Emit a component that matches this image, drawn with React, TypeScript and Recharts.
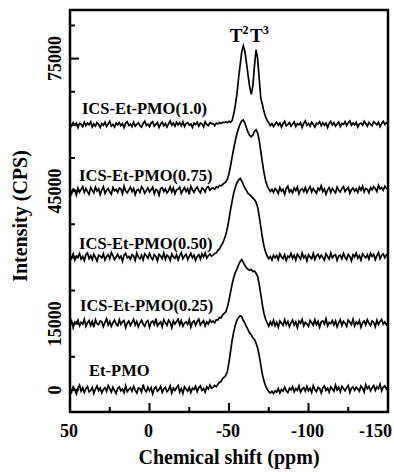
import React from 'react';
import { LineChart, Line, XAxis, YAxis, ReferenceArea, ReferenceDot } from 'recharts';

// chemical shift grid (ppm), 50 down to -150 in 1 ppm steps
const shifts: number[] = Array.from({ length: 201 }, (_, i) => 50 - i);

// raw intensities (CPS), one per shift, 10 ppm per row
const etPmo = [
  200, -500, 700, 100, -900, 400, 1100, -300, 500, -600,
  300, 800, -400, -100, 600, -800, 200, 900, -200, 400,
  -700, 100, 500, -300, 1000, 300, -500, 600, -100, -800,
  400, 700, -200, 200, -600, 900, -400, 100, 500, -300,
  800, -100, -700, 400, 300, -500, 1200, 0, -400, 600,
  -200, 500, -900, 300, 700, -300, 100, 800, -600, 200,
  600, -400, 0, 900, -700, 400, -100, 500, 1000, -500,
  300, -800, 700, 200, -300, 600, -600, 400, 100, 800,
  -400, 500, 900, -100, 300, -500, 700, 200, 1100, 400,
  600, 1000, 700, 1300, 1700, 1900, 2600, 2900, 3300, 4200,
  6300, 8800, 11300, 13200, 14700, 15800, 16400, 16800, 16600, 15700,
  15100, 14300, 13600, 12900, 12500, 11800, 11400, 10600, 9500, 7800,
  5600, 3500, 2000, 900, 200, -400, -700, -300, -800, -200,
  -500, 300, -700, 100, -300, 600, -200, -600, 400, 0,
  700, -400, 300, -100, 900, -500, 200, 500, -300, 800,
  -200, 400, -600, 1000, 100, -400, 600, 300, -700, 500,
  900, -100, 400, -500, 700, 200, -300, 1100, 0, 600,
  -400, 800, 300, -200, 500, 1000, -600, 400, 700, -100,
  600, 200, -300, 900, 400, -500, 1200, 300, 800, -200,
  500, 1000, -100, 700, 300, 1300, -200, 600, 900, 200,
  700,
];
const ics025 = [
  -300, 600, -900, 400, 100, 800, -500, 300, -100, 1000,
  -600, 200, 700, -400, 500, -800, 900, 0, -200, 600,
  400, -700, 300, 1100, -300, 500, -600, 200, 800, -100,
  -500, 900, -200, 400, 700, -900, 100, 600, -400, 300,
  1000, -300, 500, -700, 200, 800, -100, -600, 400, 700,
  -800, 300, 600, -200, 1100, -500, 0, 400, -700, 900,
  200, -400, 800, 300, -900, 600, -100, 500, 1000, -300,
  700, -600, 100, 400, -200, 900, -800, 300, 600, -400,
  500, 1000, -300, 200, 700, -500, 400, -100, 800, 300,
  600, 200, 900, 800, 1400, 1300, 2000, 2300, 2700, 3800,
  5300, 7200, 9000, 10500, 11600, 12400, 13300, 14000, 14500, 13800,
  13200, 12600, 12300, 12100, 12300, 11800, 11900, 11400, 10700, 8900,
  6600, 4200, 2300, 1000, 200, -600, 400, -300, 800, -500,
  300, -800, 600, 100, -400, 900, -200, 500, -700, 200,
  800, -300, 400, -900, 600, 100, 1000, -500, 300, -100,
  -600, 700, 200, -400, 900, -200, 500, -800, 400, 600,
  -100, 1100, -500, 300, 0, 700, -300, 600, -700, 200,
  900, -400, 500, 100, -600, 800, 300, -200, 1000, -500,
  400, -100, 700, -800, 200, 600, -300, 900, 100, -400,
  600, 300, -700, 800, -200, 500, 1000, -100, 400, -300,
  200,
];
const ics050 = [
  500, -200, 800, -600, 300, 100, 900, -400, 200, -700,
  600, 1000, -300, 400, -500, 700, 0, -800, 500, 300,
  -100, 800, -600, 200, 600, -300, 1100, 400, -500, 100,
  700, -200, 300, -900, 500, 900, -100, 200, -400, 600,
  300, -700, 1000, 100, -300, 500, -600, 800, 400, -200,
  900, 0, -500, 600, 200, -800, 700, 300, -300, 1000,
  -400, 500, 200, -700, 800, 100, -200, 600, -600, 400,
  1100, -300, 300, 700, -500, 200, 900, -100, 500, -700,
  200, 600, -400, 800, 100, 1000, -200, 400, 700, 300,
  500, 900, 1000, 1600, 1900, 2600, 3200, 4100, 5100, 6700,
  8600, 10900, 12800, 14600, 15900, 16900, 17500, 17900, 17300, 16500,
  15700, 15100, 14500, 14200, 13800, 13400, 13100, 12500, 11400, 9300,
  6900, 4500, 2500, 1200, 300, -300, 200, -600, 500, -100,
  400, -500, 800, 100, -300, 600, -700, 300, 0, 900,
  -200, 500, -600, 700, 200, -400, 1000, -100, 400, -800,
  600, 100, -300, 900, -500, 300, 700, -200, 500, 0,
  -600, 800, 200, -400, 1000, -100, 400, 600, -700, 300,
  500, -300, 900, 0, -500, 700, 200, -800, 600, 100,
  1000, -200, 400, -600, 800, 300, -100, 600, -400, 900,
  200, 700, -500, 400, 1100, -300, 500, 800, -100, 600,
  300,
];
const ics075 = [
  100, -600, 500, 300, -900, 700, -200, 400, 1000, -300,
  600, -100, -700, 800, 200, -400, 900, 0, 500, -800,
  300, 1000, -500, 200, 600, -200, -700, 800, 100, 400,
  -300, 700, 500, -600, 1100, 0, -400, 300, 900, -100,
  600, -800, 200, 400, -300, 1000, 500, -500, 100, 700,
  -200, 300, 900, -600, 400, 200, -900, 600, 800, -100,
  500, -400, 100, 1000, -200, 700, -600, 300, 400, 900,
  -500, 200, 800, -100, 600, -700, 1100, 300, -300, 500,
  900, 100, -400, 700, 400, -200, 800, 1000, 200, 600,
  700, 400, 1000, 800, 1300, 1200, 1500, 1800, 2100, 2700,
  4000, 5800, 7800, 9700, 11500, 13000, 14200, 15200, 15900, 16100,
  15400, 14300, 13300, 12600, 12300, 12700, 13500, 13900, 13200, 11500,
  9000, 6500, 4200, 2400, 1200, 500, -100, 400, -300, 600,
  200, -500, 800, 0, 400, -700, 600, 1100, -200, 300,
  -400, 700, 100, 900, -600, 300, 500, -100, 800, -300,
  400, 1000, -200, 600, 0, -500, 700, 200, 1200, -100,
  500, -700, 300, 800, -300, 600, 100, -400, 900, 200,
  -200, 600, 1000, -100, 400, 800, -500, 300, 700, 0,
  500, -300, 900, 200, 1100, -200, 600, 400, -400, 800,
  300, 1000, 600, -100, 1300, 500, 800, 200, 1100, 600,
  400,
];
const ics100 = [
  200, -300, 500, -100, 400, -600, 300, 100, -400, 600,
  -200, 400, 0, 700, -500, 200, -300, 500, 100, -600,
  300, -100, 600, -400, 200, 800, -300, 100, -500, 400,
  0, 500, -200, 300, -600, 400, 700, -100, 200, -400,
  600, -300, 100, 500, -200, -500, 300, 800, -100, 200,
  -400, 400, 700, -300, 100, 500, -600, 200, 600, -200,
  300, -500, 200, 900, -100, 400, -300, 600, 0, 500,
  -200, 700, -400, 300, 500, -100, 200, -600, 400, 100,
  600, -300, 400, 200, -500, 700, 100, -200, 500, 300,
  300, -200, 400, 200, 500, 300, 600, 500, 700, 500,
  800, 600, 1000, 2500, 4500, 7000, 10500, 13500, 16500, 17900,
  16600, 14000, 11200, 8600, 6900, 8800, 13300, 17000, 15000, 10500,
  6000, 4600, 3000, 1800, 1000, 500, -200, 300, -400, 200,
  600, -100, 400, -500, 300, 800, -200, 100, 500, -300,
  200, 700, -400, 300, 0, 500, -600, 400, 900, -100,
  300, -300, 600, 100, -500, 400, 200, 700, -200, 500,
  -100, 400, -600, 300, 800, 0, 500, -300, 200, 600,
  -400, 300, 100, 700, -200, 500, 900, -100, 400, 0,
  600, -500, 200, 400, -100, 800, 300, -300, 500, 100,
  -200, 700, 400, 0, 600, -400, 300, 800, 100, 500,
  200,
];

const seriesKeys = ['s0', 's1', 's2', 's3', 's4'];
const seriesValues = [etPmo, ics025, ics050, ics075, ics100];
const stackOffsets = [0, 15000, 30000, 45000, 60000];

const seriesNames = ['Et-PMO', 'ICS-Et-PMO(0.25)', 'ICS-Et-PMO(0.50)', 'ICS-Et-PMO(0.75)', 'ICS-Et-PMO(1.0)'];
const nameShift = [38, 43.7, 44.3, 44.3, 42.5];
const nameIntensity = [3150, 17900, 31900, 47300, 62400];

const peakNames = ['2', '3'];
const peakShift = [-50.5, -63.2];
const peakIntensity = [78700, 78700];

const xTicks = [50, 25, 0, -25, -50, -75, -100, -125, -150];
const xLabelled = [50, 0, -50, -100, -150];
const yTicks = [0, 7500, 15000, 22500, 30000, 37500, 45000, 52500, 60000, 67500, 75000, 82500];
const yLabelled = [0, 15000, 45000, 75000];

const data = shifts.map((shift, i) => {
  const row: Record<string, number> = { shift };
  seriesKeys.forEach((k, j) => {
    row[k] = seriesValues[j][i] + stackOffsets[j];
  });
  return row;
});

const FONT = '"Liberation Serif", "Times New Roman", serif';

const XTick = (props: any) => {
  const { x, y, payload } = props;
  const major = xLabelled.includes(payload.value);
  const last = payload.value === -150;
  return (
    <g>
      <line x1={x} x2={x} y1={y} y2={y - (major ? 9 : 5)} stroke="#000" strokeWidth={2} />
      {major && (
        <text
          x={last ? x + 4 : x - 1}
          y={y + 25}
          textAnchor={last ? 'end' : 'middle'}
          fontSize={18}
          fontWeight="bold"
          fontFamily={FONT}
          fill="#000"
        >
          {payload.value}
        </text>
      )}
    </g>
  );
};

const YTick = (props: any) => {
  const { x, y, payload } = props;
  const major = payload.value % 15000 === 0;
  const lx = x - 9;
  return (
    <g>
      <line x1={x} x2={x + (major ? 9 : 5)} y1={y} y2={y} stroke="#000" strokeWidth={2} />
      {yLabelled.includes(payload.value) && (
        <text
          x={lx}
          y={y}
          transform={`rotate(-90, ${lx}, ${y})`}
          textAnchor="middle"
          fontSize={18}
          fontWeight="bold"
          fontFamily={FONT}
          fill="#000"
        >
          {payload.value}
        </text>
      )}
    </g>
  );
};

const App = () => {
  return (
    <div style={{ position: 'absolute', left: 0, top: 0, width: 394, height: 472, background: '#fff' }}>
      <LineChart width={394} height={472} data={data} margin={{ top: 10, right: 6, bottom: 0, left: 0 }}>
        <XAxis
          dataKey="shift"
          type="number"
          domain={[-150, 50]}
          reversed
          allowDataOverflow
          ticks={xTicks}
          interval={0}
          height={60}
          tickSize={0}
          tickMargin={0}
          axisLine={false}
          tickLine={false}
          tick={<XTick />}
          label={{
            content: (p: any) => (
              <text
                x={p.viewBox.x + p.viewBox.width / 2}
                y={p.viewBox.y + 52}
                textAnchor="middle"
                fontSize={20}
                fontWeight="bold"
                fontFamily={FONT}
                fill="#000"
              >
                Chemical shift (ppm)
              </text>
            ),
          }}
        />
        <YAxis
          type="number"
          domain={[-5000, 86000]}
          allowDataOverflow
          ticks={yTicks}
          interval={0}
          width={70}
          tickSize={0}
          tickMargin={0}
          axisLine={false}
          tickLine={false}
          tick={<YTick />}
          label={{
            content: (p: any) => {
              const cx = 27;
              const cy = p.viewBox.y + p.viewBox.height / 2 + 5;
              return (
                <text
                  x={cx}
                  y={cy}
                  transform={`rotate(-90, ${cx}, ${cy})`}
                  textAnchor="middle"
                  fontSize={20}
                  fontWeight="bold"
                  fontFamily={FONT}
                  fill="#000"
                >
                  Intensity (CPS)
                </text>
              );
            },
          }}
        />
        {seriesKeys.map((k) => (
          <Line
            key={k}
            type="linear"
            dataKey={k}
            stroke="#000"
            strokeWidth={1.7}
            dot={false}
            isAnimationActive={false}
          />
        ))}
        {seriesNames.map((name, i) => (
          <ReferenceDot
            key={name}
            x={nameShift[i]}
            y={nameIntensity[i]}
            r={0}
            ifOverflow="visible"
            shape={(p: any) => (
              <text x={p.cx} y={p.cy} fontSize={16.5} fontWeight="bold" fontFamily={FONT} fill="#000">
                {name}
              </text>
            )}
          />
        ))}
        {peakNames.map((n, i) => (
          <ReferenceDot
            key={n}
            x={peakShift[i]}
            y={peakIntensity[i]}
            r={0}
            ifOverflow="visible"
            shape={(p: any) => (
              <text x={p.cx} y={p.cy} fontSize={19} fontWeight="bold" fontFamily={FONT} fill="#000">
                T<tspan dy={-8} fontSize={12}>{n}</tspan>
              </text>
            )}
          />
        ))}
        <ReferenceArea
          x1={50}
          x2={-150}
          y1={-5000}
          y2={86000}
          ifOverflow="visible"
          fill="none"
          stroke="#000"
          strokeWidth={2.5}
        />
      </LineChart>
    </div>
  );
};

export default App;
